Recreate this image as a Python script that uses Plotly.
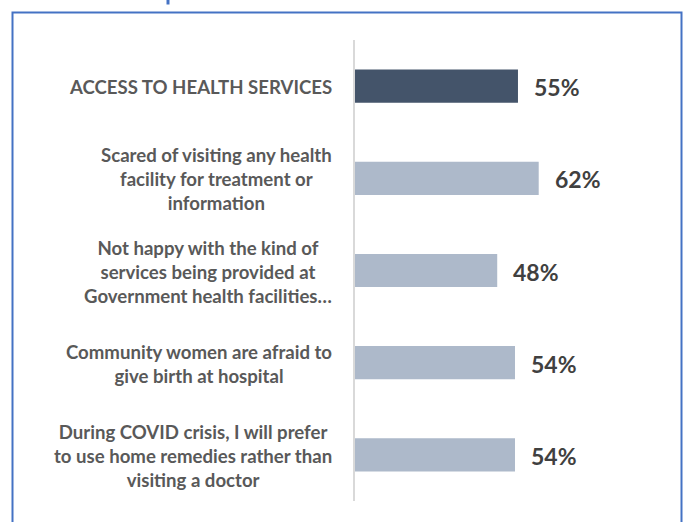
import plotly.graph_objects as go

categories = [
    "ACCESS TO HEALTH SERVICES",
    "Scared of visiting any health<br>facility for treatment or<br>information",
    "Not happy with the kind of<br>services being provided at<br>Government health facilities…",
    "Community women are afraid to<br>give birth at hospital",
    "During COVID crisis, I will prefer<br>to use home remedies rather than<br>visiting a doctor",
]
values = [55, 62, 48, 54, 54]
bar_colors = ["#44546A", "#ADB9CA", "#ADB9CA", "#ADB9CA", "#ADB9CA"]

W, H = 687, 522
L, R, T, B = 355, 12, 40, 21
pw, ph = W - L - R, H - T - B

def px_x(p):
    return (p - L) / pw

def px_y(p):
    return 1 - (p - T) / ph

fig = go.Figure()
fig.add_trace(go.Bar(
    x=values, y=categories, orientation="h",
    marker=dict(color=bar_colors, line=dict(width=0)),
    hoverinfo="skip",
))

annotations = []
for c, v in zip(categories, values):
    annotations.append(dict(
        x=px_x(334), xref="paper", y=c, yref="y",
        text=c, showarrow=False, xanchor="right", yanchor="middle",
        align="center", yshift=-1,
        font=dict(family="Lato", size=18.6, color="#595959", weight="bold"),
    ))
    annotations.append(dict(
        x=v, xref="x", y=c, yref="y",
        text=f"{v}%", showarrow=False, xanchor="left", yanchor="middle",
        xshift=14, yshift=-1,
        font=dict(family="Lato", size=23, color="#404040", weight="bold"),
    ))

shapes = [
    dict(type="rect", xref="paper", yref="paper",
         x0=px_x(12.5), x1=px_x(681.5), y0=px_y(540), y1=px_y(12.5),
         line=dict(color="#4472C4", width=2), fillcolor="rgba(0,0,0,0)", layer="below"),
    dict(type="line", xref="paper", yref="paper",
         x0=px_x(168), x1=px_x(168), y0=px_y(-2), y1=px_y(4.5),
         line=dict(color="#4472C4", width=3)),
]

fig.update_layout(
    width=W, height=H,
    margin=dict(l=L, r=R, t=T, b=B, pad=0),
    paper_bgcolor="white", plot_bgcolor="white",
    showlegend=False,
    bargap=0.64,
    xaxis=dict(range=[0, pw / 2.963], visible=False, showgrid=False, zeroline=False, fixedrange=True),
    yaxis=dict(type="category", autorange="reversed", showticklabels=False, ticks="",
               showgrid=False, zeroline=False, showline=True, linecolor="#D9D9D9", linewidth=2,
               fixedrange=True),
    annotations=annotations,
    shapes=shapes,
)

fig.write_html("out.html", config={"displayModeBar": False})
